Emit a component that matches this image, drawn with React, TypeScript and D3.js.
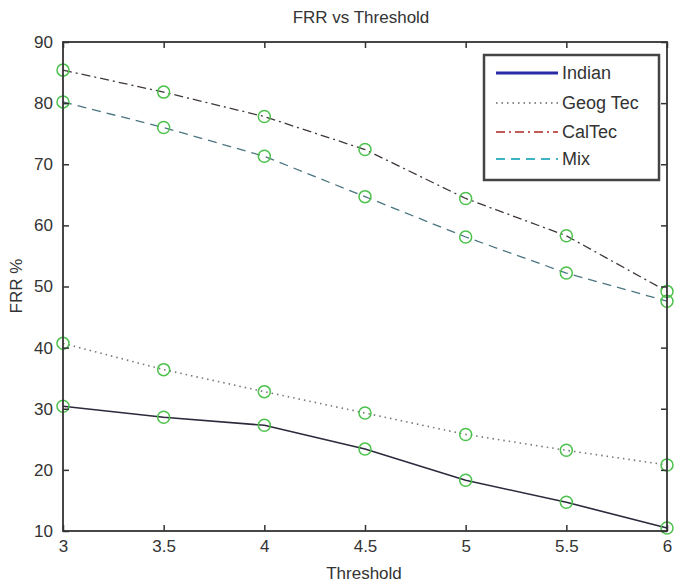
import React, { useEffect, useRef } from 'react';
import * as d3 from 'd3';

// values
const thresholds = [3, 3.5, 4, 4.5, 5, 5.5, 6];
const indian = [30.4, 28.6, 27.3, 23.4, 18.3, 14.7, 10.5];
const geogTec = [40.7, 36.4, 32.8, 29.3, 25.8, 23.2, 20.8];
const calTec = [85.4, 81.8, 77.8, 72.4, 64.4, 58.3, 49.2];
const mix = [80.2, 76.0, 71.3, 64.7, 58.1, 52.2, 47.6];
const seriesNames = ['Indian', 'Geog Tec', 'CalTec', 'Mix'];
const xTicks = [3, 3.5, 4, 4.5, 5, 5.5, 6];
const yTicks = [10, 20, 30, 40, 50, 60, 70, 80, 90];

const App = () => {
  const svgRef = useRef<SVGSVGElement>(null);

  useEffect(() => {
    const width = 681;
    const height = 584;
    const margin = { top: 42, right: 14, bottom: 53, left: 63 };
    const font = 'Arial, "Liberation Sans", sans-serif';

    const svg = d3.select(svgRef.current);
    svg.selectAll('*').remove();
    svg.attr('viewBox', [0, 0, width, height]);

    svg.append('rect').attr('width', width).attr('height', height).attr('fill', '#fff');

    const x = d3.scaleLinear()
      .domain([3, 6])
      .range([margin.left, width - margin.right]);

    const y = d3.scaleLinear()
      .domain([10, 90])
      .range([height - margin.bottom, margin.top]);

    const series = [
      { name: seriesNames[0], values: indian, plot: '#2a2a3c', key: '#2b2ba6', dash: null, w: 1.6 },
      { name: seriesNames[1], values: geogTec, plot: '#777', key: '#8a8a8a', dash: '1.5,4', w: 1.6 },
      { name: seriesNames[2], values: calTec, plot: '#403838', key: '#c25a5a', dash: '9,4,2,4', w: 1.3 },
      { name: seriesNames[3], values: mix, plot: '#4a7580', key: '#3fb2c4', dash: '9,6', w: 1.3 },
    ];

    const line = d3.line<number>()
      .x((_, i) => x(thresholds[i]))
      .y(d => y(d));

    // Draw the lines
    series.forEach(s => {
      svg.append('path')
        .datum(s.values)
        .attr('fill', 'none')
        .attr('stroke', s.plot)
        .attr('stroke-width', s.w)
        .attr('stroke-dasharray', s.dash)
        .attr('d', line);
    });

    // Circle markers on every point
    series.forEach(s => {
      svg.append('g')
        .selectAll('circle')
        .data(s.values)
        .join('circle')
        .attr('cx', (_, i) => x(thresholds[i]))
        .attr('cy', d => y(d))
        .attr('r', 6)
        .attr('fill', 'none')
        .attr('stroke', '#4cc24c')
        .attr('stroke-width', 1.5);
    });

    // Axes with inward ticks on all four sides
    const fmt = (d: any) => String(d);

    const bottom = svg.append('g')
      .attr('transform', `translate(0,${height - margin.bottom})`)
      .call(d3.axisBottom(x).tickValues(xTicks).tickFormat(fmt).tickSizeInner(-6).tickSizeOuter(0).tickPadding(9));
    const left = svg.append('g')
      .attr('transform', `translate(${margin.left},0)`)
      .call(d3.axisLeft(y).tickValues(yTicks).tickFormat(fmt).tickSizeInner(-6).tickSizeOuter(0).tickPadding(10));
    const top = svg.append('g')
      .attr('transform', `translate(0,${margin.top})`)
      .call(d3.axisTop(x).tickValues(xTicks).tickFormat(() => '').tickSizeInner(-6).tickSizeOuter(0));
    const right = svg.append('g')
      .attr('transform', `translate(${width - margin.right},0)`)
      .call(d3.axisRight(y).tickValues(yTicks).tickFormat(() => '').tickSizeInner(-6).tickSizeOuter(0));

    [bottom, left, top, right].forEach(g => {
      g.select('.domain').remove();
      g.selectAll('line').attr('stroke', '#333').attr('stroke-width', 1.5);
      g.selectAll('text')
        .attr('fill', '#333')
        .style('font-family', font)
        .style('font-size', '17px');
    });

    // Frame
    svg.append('rect')
      .attr('x', margin.left)
      .attr('y', margin.top)
      .attr('width', width - margin.left - margin.right)
      .attr('height', height - margin.top - margin.bottom)
      .attr('fill', 'none')
      .attr('stroke', '#333')
      .attr('stroke-width', 1.8);

    // Title and axis labels
    svg.append('text')
      .attr('x', 361)
      .attr('y', 23)
      .attr('text-anchor', 'middle')
      .style('font-family', font)
      .style('font-size', '17px')
      .attr('fill', '#333')
      .text('FRR vs Threshold');

    svg.append('text')
      .attr('x', 364)
      .attr('y', height - 5)
      .attr('text-anchor', 'middle')
      .style('font-family', font)
      .style('font-size', '17px')
      .attr('fill', '#333')
      .text('Threshold');

    svg.append('text')
      .attr('transform', 'rotate(-90)')
      .attr('x', -286)
      .attr('y', 22)
      .attr('text-anchor', 'middle')
      .style('font-family', font)
      .style('font-size', '17px')
      .attr('fill', '#333')
      .text('FRR %');

    // Legend
    const legend = svg.append('g');
    legend.append('rect')
      .attr('x', 484)
      .attr('y', 55)
      .attr('width', 175)
      .attr('height', 125)
      .attr('fill', '#fff')
      .attr('stroke', '#444')
      .attr('stroke-width', 2.5);

    const rowY = [73, 103, 132, 159];
    series.forEach((s, i) => {
      legend.append('line')
        .attr('x1', 496)
        .attr('x2', 558)
        .attr('y1', rowY[i])
        .attr('y2', rowY[i])
        .attr('stroke', s.key)
        .attr('stroke-width', i === 0 ? 3 : 2)
        .attr('stroke-dasharray', s.dash);
      legend.append('text')
        .attr('x', 562)
        .attr('y', rowY[i])
        .attr('dy', '0.35em')
        .style('font-family', font)
        .style('font-size', '18px')
        .attr('fill', '#333')
        .text(s.name);
    });
  });

  return (
    <svg ref={svgRef} width={681} height={584} style={{ position: 'absolute', left: 0, top: 0 }}></svg>
  );
};

export default App;
